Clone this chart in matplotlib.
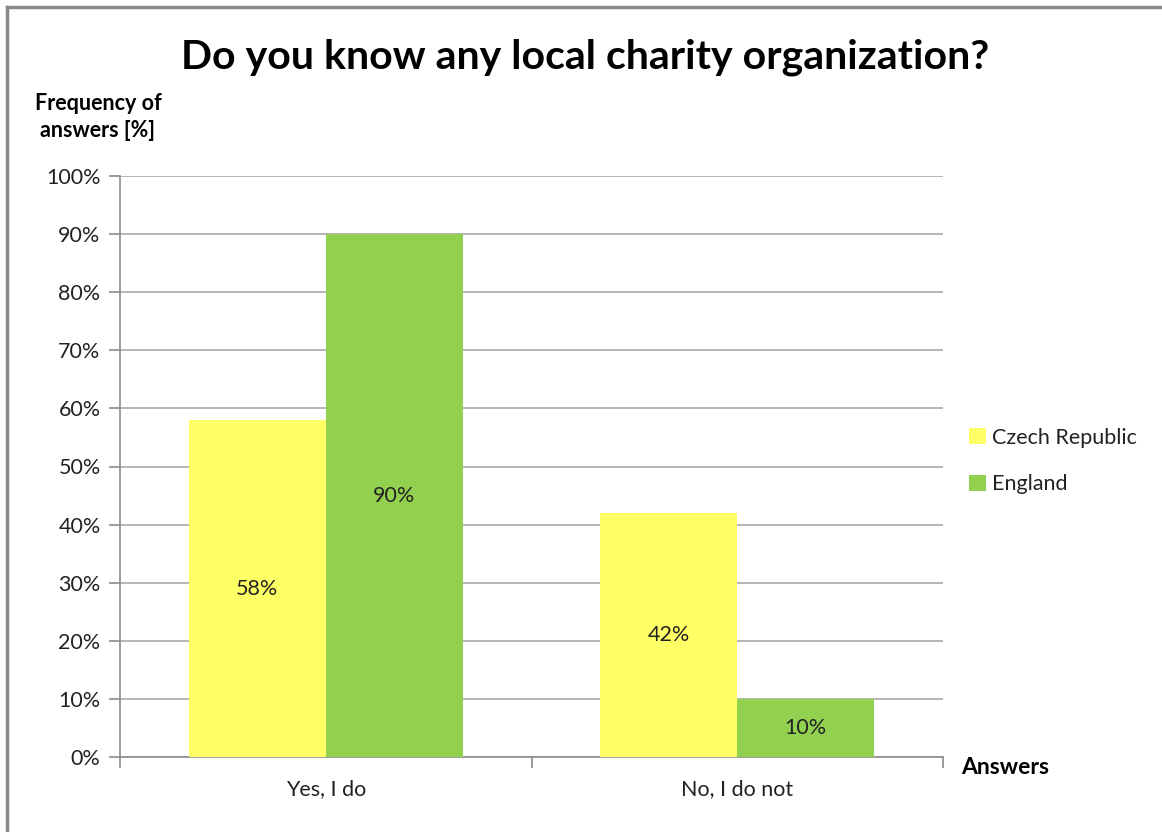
import matplotlib
matplotlib.use("Agg")
import matplotlib.pyplot as plt
from matplotlib.lines import Line2D
from matplotlib.patches import Patch

plt.rcParams['font.family'] = ['Lato', 'DejaVu Sans']

categories = ["Yes, I do", "No, I do not"]
series_names = ["Czech Republic", "England"]
czech = [58, 42]
england = [90, 10]
yticks = list(range(0, 101, 10))

col_cz = "#FFFF66"
col_en = "#92D050"
axis_col = "#8C8C8C"
text_col = "#222222"

fig = plt.figure(figsize=(11.62, 8.32), dpi=100)
fig.patch.set_facecolor("white")

# frame lines on the left and top edges
fig.add_artist(Line2D([7 / 1162, 7 / 1162], [0, 1 - 7 / 832], transform=fig.transFigure,
                      color="#8A8A8A", lw=2.5))
fig.add_artist(Line2D([7 / 1162, 1], [1 - 7 / 832, 1 - 7 / 832], transform=fig.transFigure,
                      color="#8A8A8A", lw=2.5))

ax = fig.add_axes([120 / 1162, 1 - 757 / 832, (943 - 120) / 1162, (757 - 176) / 832])

x = list(range(len(categories)))
w = 1 / 3
bars_cz = ax.bar([i - w / 2 for i in x], czech, width=w, color=col_cz, zorder=3)
bars_en = ax.bar([i + w / 2 for i in x], england, width=w, color=col_en, zorder=3)

for bars, vals in ((bars_cz, czech), (bars_en, england)):
    for b, v in zip(bars, vals):
        ax.text(b.get_x() + b.get_width() / 2, v / 2, f"{v}%", ha="center", va="center",
                fontsize=15.5, color=text_col, zorder=4)

ax.set_xlim(-0.5, 1.5)
ax.set_ylim(0, 100)
ax.set_yticks(yticks)
ax.set_yticklabels([f"{t}%" for t in yticks])
ax.yaxis.grid(True, color="#A0A0A0", lw=1.1, zorder=0)
ax.set_axisbelow(True)

ax.set_xticks(x)
ax.set_xticklabels(categories)
ax.set_xticks([-0.5, 0.5, 1.5], minor=True)
ax.tick_params(axis="x", which="major", length=0, pad=16, labelsize=15.5, labelcolor=text_col)
ax.tick_params(axis="x", which="minor", length=8, color=axis_col, width=1.2)
ax.tick_params(axis="y", length=8, color=axis_col, width=1.2, pad=6, labelsize=15.5,
               labelcolor=text_col)

for s in ("top", "right"):
    ax.spines[s].set_visible(False)
for s in ("left", "bottom"):
    ax.spines[s].set_color(axis_col)
    ax.spines[s].set_linewidth(1.2)

fig.text(585 / 1162, 1 - 57 / 832, "Do you know any local charity organization?",
         ha="center", va="center", fontsize=29.5, fontweight="bold", color="black")
fig.text(98 / 1162, 1 - 117 / 832, "Frequency of\nanswers [%]", ha="center", va="center",
         fontsize=15.5, fontweight="bold", color="black", linespacing=1.35)
fig.text(961 / 1162, 1 - 767 / 832, "Answers", ha="left", va="center",
         fontsize=16.5, fontweight="bold", color="black")

handles = [Patch(facecolor=col_cz, edgecolor="none"), Patch(facecolor=col_en, edgecolor="none")]
leg = fig.legend(handles, series_names, loc="center left",
                 bbox_to_anchor=(950 / 1162, 1 - 461 / 832), frameon=False,
                 fontsize=15.5, handlelength=0.75, handleheight=0.75, handletextpad=0.3,
                 labelspacing=1.25)
for t in leg.get_texts():
    t.set_color(text_col)

fig.savefig("out.png", dpi=100, facecolor="white")
